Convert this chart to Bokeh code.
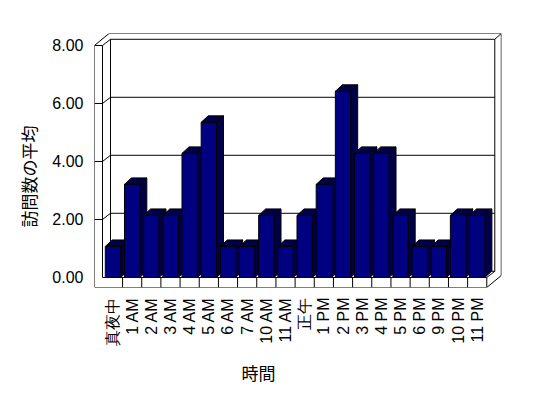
import math
import numpy as np
from bokeh.plotting import figure
from bokeh.models import Range1d, FixedTicker, NumeralTickFormatter, CustomJSTickFormatter, Title
from bokeh.embed import file_html
from bokeh.resources import INLINE

# ---- data ----
categories = ["真夜中", "1 AM", "2 AM", "3 AM", "4 AM", "5 AM", "6 AM", "7 AM",
              "10 AM", "11 AM", "正午", "1 PM", "2 PM", "3 PM", "4 PM", "5 PM",
              "6 PM", "9 PM", "10 PM", "11 PM"]
values = [1.07, 3.21, 2.14, 2.14, 4.28, 5.35, 1.07, 1.07, 2.14, 1.07,
          2.14, 3.21, 6.42, 4.28, 4.28, 2.14, 1.07, 1.07, 2.14, 2.14]
y_ticks = [0, 2, 4, 6, 8]
x_title = "時間"
y_title = "訪問数の平均"

# ---- geometry (pixels per unit and 3D depth) ----
PX_U, PX_V = 19.17, 29.0
FW, FH = 407, 254
BL, BR, BT, BB = 94, 39, 33, 105
uL, vB = -0.464, -0.345          # outer left edge, floor bottom
uI, uR = -0.047, float(len(categories))
vF, vT = 0.0, float(max(y_ticks))
a1, b1 = 8 / PX_U, 6.2 / PX_V     # inner depth
a2, b2 = 14.5 / PX_U, 12 / PX_V   # outer depth
bdu, bdv = 7 / PX_U, 6.5 / PX_V   # bar depth
bw = 0.8

x_range = Range1d(uL, uL + FW / PX_U)
y_range = Range1d(vB, vB + FH / PX_V)

p = figure(frame_width=FW, frame_height=FH, x_range=x_range, y_range=y_range,
           output_backend="svg", toolbar_location=None,
           min_border_left=BL, min_border_right=BR, min_border_top=BT,
           min_border_bottom=BB)
p.grid.visible = False
p.outline_line_color = None
p.background_fill_color = "white"
p.border_fill_color = "white"

# ---- walls / frame ----
segs = [
    ((uI + a1, vF + b1), (uI + a1, vT + b1)),
    ((uR + a1, vF + b1), (uR + a1, vT + b1)),
    ((uI + a1, vT + b1), (uR + a1, vT + b1)),
    ((uL + a2, vT + b2), (uR + a2, vT + b2)),
    ((uR + a2, vB + b2), (uR + a2, vT + b2)),
    ((uR + a1, vT + b1), (uR + a2, vT + b2)),
    ((uI + a1, vF + b1), (uR + a1, vF + b1)),
    ((uL, vT), (uL + a2, vT + b2)),
    ((uI, vT), (uI + a1, vT + b1)),
]
for t in y_ticks[1:-1]:
    segs.append(((uI, t), (uI + a1, t + b1)))
    segs.append(((uI + a1, t + b1), (uR + a1, t + b1)))
p.multi_line(xs=[[s[0][0], s[1][0]] for s in segs],
             ys=[[s[0][1], s[1][1]] for s in segs],
             line_color="black", line_width=1)

# ---- bars (drawn left to right: side, top, front) ----
xs, ys, cols = [], [], []
for i, val in enumerate(values):
    c = i + 0.5
    l, r = c - bw / 2, c + bw / 2
    xs.append([r, r + bdu, r + bdu, r]); ys.append([0, bdv, val + bdv, val]); cols.append("#000048")
    xs.append([l, r, r + bdu, l + bdu]); ys.append([val, val, val + bdv, val + bdv]); cols.append("#000048")
    xs.append([l, r, r, l]); ys.append([0, 0, val, val]); cols.append("#000080")
p.patches(xs=xs, ys=ys, fill_color=cols, line_color="black", line_width=1)

# ---- front floor and left wall face ----
fsegs = [
    ((uL, vB), (uL, vT)),
    ((uI, vF), (uI, vT)),
    ((uL, vT), (uI, vT)),
    ((uI, vF), (uR, vF)),
    ((uL, vB), (uR, vB)),
    ((uR, vB), (uR, vF)),
    ((uR, vF), (uR + a1, vF + b1)),
    ((uR, vB), (uR + a2, vB + b2)),
]
for k in range(1, len(categories)):
    fsegs.append(((k, vB), (k, vF)))
for t in y_ticks[1:-1]:
    fsegs.append(((uL, t), (uI, t)))
p.multi_line(xs=[[s[0][0], s[1][0]] for s in fsegs],
             ys=[[s[0][1], s[1][1]] for s in fsegs],
             line_color="black", line_width=1)

# ---- axes ----
ya = p.yaxis[0]
ya.ticker = FixedTicker(ticks=y_ticks)
ya.formatter = NumeralTickFormatter(format="0.00")
ya.axis_line_color = None
ya.major_tick_line_color = None
ya.minor_tick_line_color = None
ya.major_tick_out = 0
ya.major_tick_in = 0
ya.major_label_standoff = 11
ya.major_label_text_font = "Liberation Sans"
ya.major_label_text_font_size = "16px"
ya.major_label_text_color = "black"

xa = p.xaxis[0]
xa.ticker = FixedTicker(ticks=[i + 0.5 for i in range(len(categories))])
xa.formatter = CustomJSTickFormatter(
    args=dict(labels=categories),
    code="const i = Math.round(tick - 0.5); return (i >= 0 && i < labels.length) ? labels[i] : '';")
xa.axis_line_color = None
xa.major_tick_line_color = None
xa.minor_tick_line_color = None
xa.major_tick_out = 0
xa.major_tick_in = 0
xa.major_label_orientation = math.pi / 2
xa.major_label_standoff = 10
xa.major_label_text_font = "Liberation Sans"
xa.major_label_text_font_size = "16px"
xa.major_label_text_color = "black"

p.add_layout(Title(text=x_title, align="left", offset=147, standoff=19,
                   text_font="Noto Sans CJK JP", text_font_size="17px",
                   text_font_style="normal", text_color="black"), "below")
p.add_layout(Title(text=y_title, align="left", offset=60, standoff=18,
                   text_font="Noto Sans CJK JP", text_font_size="17px",
                   text_font_style="normal", text_color="black"), "left")

open("out.html", "w").write(file_html(p, INLINE))
